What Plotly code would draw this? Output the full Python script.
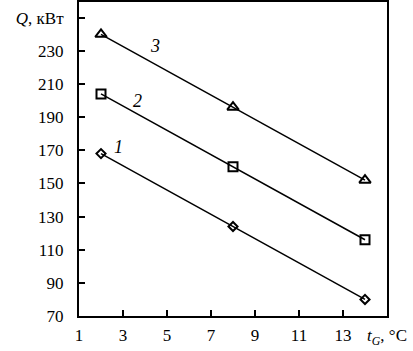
import plotly.graph_objects as go

x_vals = [2, 8, 14]
q1 = [168, 124, 80]
q2 = [204, 160, 116]
q3 = [240, 196, 152]
series_names = ["1", "2", "3"]
x_ticks = [1, 3, 5, 7, 9, 11, 13, 15]
x_ticktext = ["1", "3", "5", "7", "9", "11", "13", "<i>t</i><sub><i>G</i></sub>, °C"]
y_ticks = [70, 90, 110, 130, 150, 170, 190, 210, 230, 250]
y_ticktext = ["70", "90", "110", "130", "150", "170", "190", "210", "230", "<i>Q</i>, кВт"]
label_pos = [(2.8, 172), (3.65, 200), (4.45, 233)]

FONT = "Liberation Serif"
fig = go.Figure()
symbols = ["diamond-open", "square-open", "triangle-up-open"]
sizes = [7, 9, 10]
for q, sym, sz in zip([q1, q2, q3], symbols, sizes):
    fig.add_trace(go.Scatter(
        x=x_vals, y=q, mode="lines+markers",
        line=dict(color="black", width=1.5),
        marker=dict(symbol=sym, size=sz, color="black", line=dict(width=2, color="black")),
        showlegend=False))

for name, (lx, ly) in zip(series_names, label_pos):
    fig.add_annotation(x=lx, y=ly, text=f"<i>{name}</i>", showarrow=False,
                       font=dict(family=FONT, size=18, color="black"))

fig.update_layout(
    width=413, height=351,
    margin=dict(l=79, r=26, t=2, b=35),
    paper_bgcolor="white", plot_bgcolor="white",
    font=dict(family=FONT, size=17, color="black"),
    xaxis=dict(range=[1, 15], tickvals=x_ticks, ticktext=x_ticktext,
               ticks="inside", ticklen=6, tickwidth=1.5, tickcolor="black",
               showline=True, linecolor="black", linewidth=2, mirror=True,
               showgrid=False, zeroline=False, ticklabelstandoff=3,
               automargin=False, tickfont=dict(family=FONT, size=17)),
    yaxis=dict(range=[70, 259.5], tickvals=y_ticks, ticktext=y_ticktext,
               ticks="inside", ticklen=6, tickwidth=1.5, tickcolor="black",
               showline=True, linecolor="black", linewidth=2, mirror=True,
               showgrid=False, zeroline=False, ticklabelstandoff=10,
               automargin=False, tickfont=dict(family=FONT, size=17)),
)
fig.write_html("out.html", config={"displayModeBar": False},
               post_script="document.body.style.margin='0';document.body.style.padding='0';")
